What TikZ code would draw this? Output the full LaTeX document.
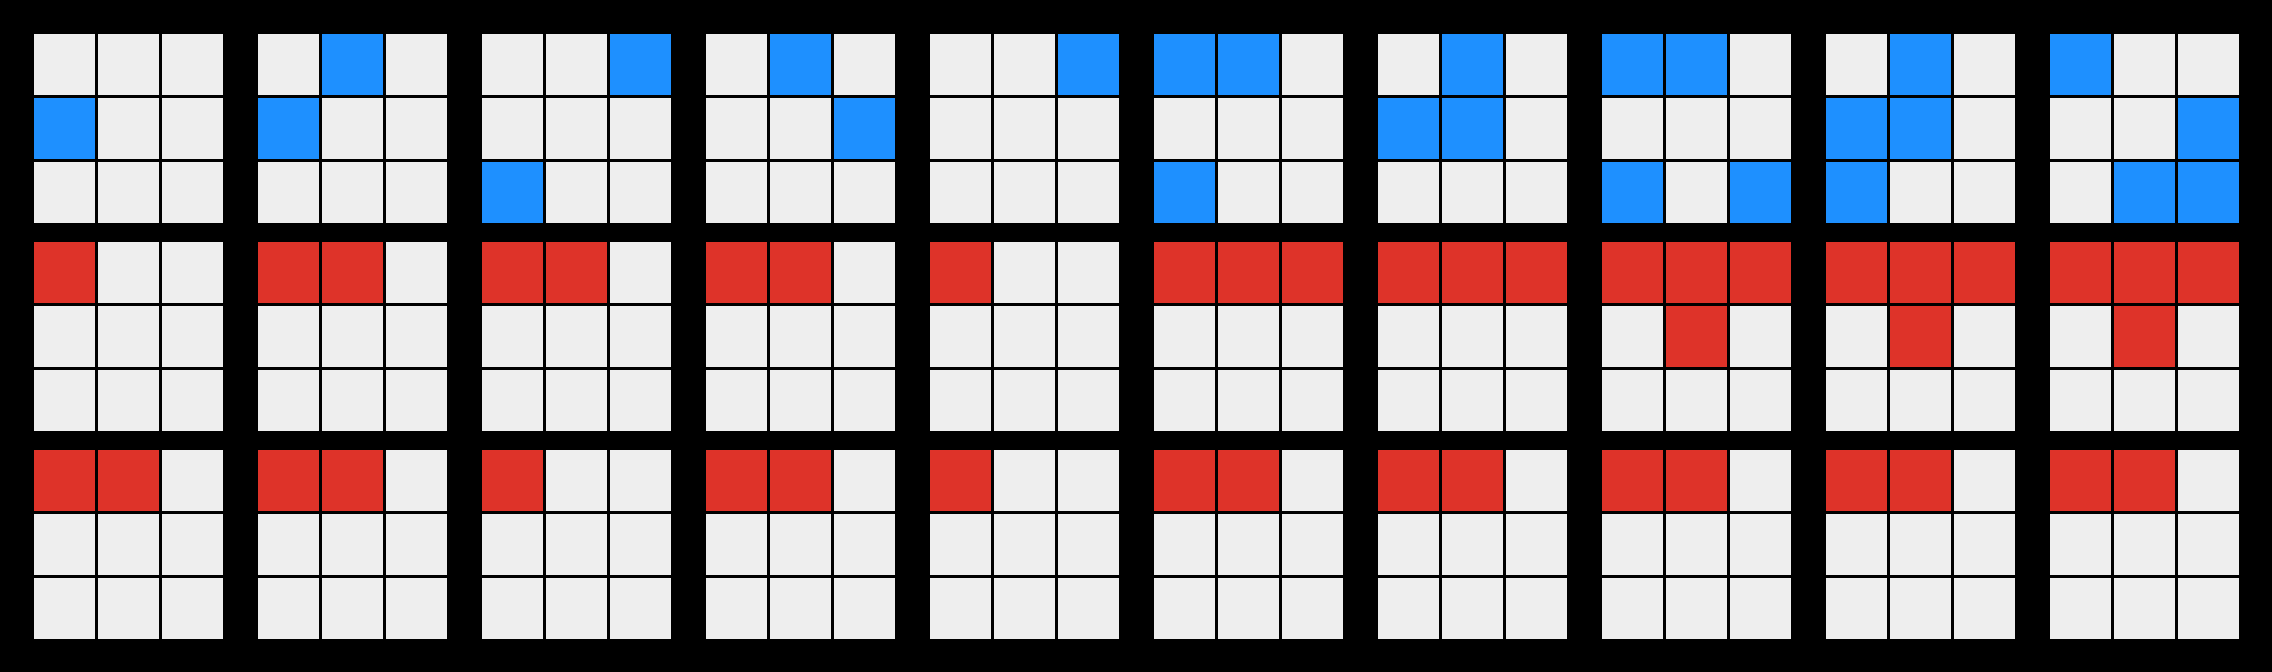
\documentclass[tikz,border=0pt]{standalone}
\definecolor{cellgrey}{HTML}{EEEEEE}
\definecolor{cellblue}{HTML}{1E90FF}
\definecolor{cellred}{HTML}{DE3329}
\begin{document}
\begin{tikzpicture}[x=0.5pt,y=-0.5pt]
\fill[black] (0,0) rectangle (2272,672);
\useasboundingbox (0,0) rectangle (2272,672);
% empty cells
\foreach \r in {0,1,2}
 \foreach \c in {0,...,9}
  \foreach \i in {0,1,2}
   \foreach \j in {0,1,2}
    \fill[cellgrey] ({34+224*\c+64*\j},{34+208*\r+64*\i}) rectangle ++(61,61);
% coloured cells: row/column of panel, colour, list of row/col cells
\foreach \r/\c/\colr/\cells in {
  0/0/cellblue/{1/0},
  0/1/cellblue/{0/1,1/0},
  0/2/cellblue/{0/2,2/0},
  0/3/cellblue/{0/1,1/2},
  0/4/cellblue/{0/2},
  0/5/cellblue/{0/0,0/1,2/0},
  0/6/cellblue/{0/1,1/0,1/1},
  0/7/cellblue/{0/0,0/1,2/0,2/2},
  0/8/cellblue/{0/1,1/0,1/1,2/0},
  0/9/cellblue/{0/0,1/2,2/1,2/2},
  1/0/cellred/{0/0},
  1/1/cellred/{0/0,0/1},
  1/2/cellred/{0/0,0/1},
  1/3/cellred/{0/0,0/1},
  1/4/cellred/{0/0},
  1/5/cellred/{0/0,0/1,0/2},
  1/6/cellred/{0/0,0/1,0/2},
  1/7/cellred/{0/0,0/1,0/2,1/1},
  1/8/cellred/{0/0,0/1,0/2,1/1},
  1/9/cellred/{0/0,0/1,0/2,1/1},
  2/0/cellred/{0/0,0/1},
  2/1/cellred/{0/0,0/1},
  2/2/cellred/{0/0},
  2/3/cellred/{0/0,0/1},
  2/4/cellred/{0/0},
  2/5/cellred/{0/0,0/1},
  2/6/cellred/{0/0,0/1},
  2/7/cellred/{0/0,0/1},
  2/8/cellred/{0/0,0/1},
  2/9/cellred/{0/0,0/1}}
{
  \foreach \i/\j in \cells
    \fill[\colr] ({34+224*\c+64*\j},{34+208*\r+64*\i}) rectangle ++(61,61);
}
\end{tikzpicture}
\end{document}
